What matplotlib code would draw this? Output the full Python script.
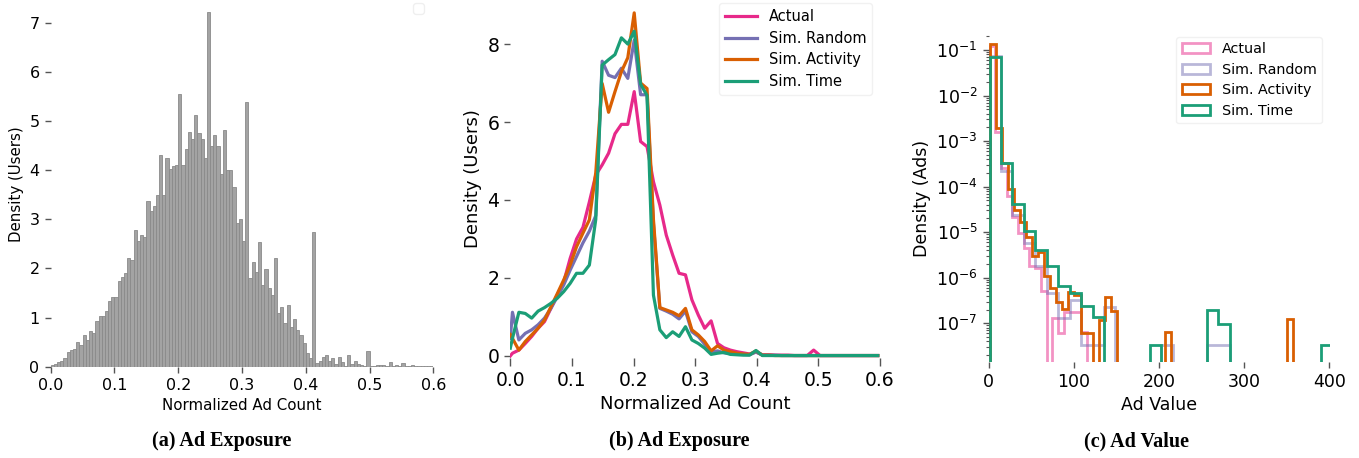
import numpy as np
import matplotlib
matplotlib.use('Agg')
import matplotlib.pyplot as plt
from matplotlib.patches import Patch

# ---------------- data ----------------
# (a) histogram of normalized ad count, 120 bins of width 0.005 on [0, 0.6]
hist_a = [0.03, 0.06, 0.1, 0.12, 0.18, 0.3, 0.34, 0.37, 0.5, 0.44,
          0.64, 0.54, 0.72, 0.68, 0.93, 1.03, 1.03, 1.13, 1.34, 1.42,
          1.42, 1.74, 1.83, 1.9, 2.21, 2.17, 2.78, 2.56, 2.68, 2.63,
          3.37, 3.17, 3.27, 3.5, 4.31, 3.5, 4.25, 4.03, 4.08, 4.1,
          5.55, 4.11, 4.43, 4.78, 4.64, 5.13, 4.76, 4.64, 4.25, 7.22,
          4.49, 4.72, 4.49, 3.92, 4.82, 4.0, 4.0, 3.65, 2.93, 3.0,
          2.56, 5.38, 1.81, 2.13, 1.93, 2.53, 1.66, 1.99, 1.6, 1.46,
          2.21, 1.09, 1.22, 0.89, 1.26, 0.81, 0.97, 0.75, 0.64, 0.48,
          0.28, 0.18, 2.74, 0.07, 0.12, 0.2, 0.24, 0.12, 0.18, 0.05,
          0.2, 0.1, 0.005, 0.24, 0.05, 0.12, 0.05, 0.03, 0.01, 0.32,
          0.01, 0.01, 0.03, 0.03, 0.03, 0.01, 0.1, 0.01, 0.03, 0.01,
          0.07, 0.01, 0.01, 0.03, 0.01, 0.01, 0.01, 0.01, 0.01, 0.01]
bin_width_a = 0.005

# (b) frequency polygons
x_b = np.r_[0.0, 0.0035 + 0.0104 * np.arange(58)]
actual_b = [0.0, 0.07, 0.15, 0.32, 0.5, 0.71, 0.88, 1.22, 1.56, 1.9,
            2.5, 3.0, 3.3, 3.95, 4.64, 4.9, 5.2, 5.7, 5.94, 5.94,
            6.78, 5.5, 5.37, 4.47, 3.87, 3.1, 2.59, 2.12, 2.08, 1.44,
            1.05, 0.71, 0.9, 0.32, 0.21, 0.15, 0.11, 0.08, 0.05, 0.1,
            0.03, 0.03, 0.02, 0.02, 0.02, 0.01, 0.01, 0.01, 0.15, 0.01,
            0.01, 0.01, 0.01, 0.01, 0.01, 0.01, 0.01, 0.01, 0.01]
random_b = [0.45, 1.12, 0.41, 0.58, 0.67, 0.8, 0.97, 1.22, 1.52, 1.82,
            2.2, 2.55, 2.9, 3.2, 3.6, 7.56, 7.2, 7.14, 7.38, 7.12,
            8.1, 6.7, 6.7, 3.4, 1.22, 1.15, 1.07, 0.95, 1.15, 0.62,
            0.5, 0.3, 0.1, 0.13, 0.08, 0.06, 0.05, 0.04, 0.03, 0.1,
            0.02, 0.02, 0.02, 0.01, 0.01, 0.01, 0.01, 0.01, 0.01, 0.01,
            0.01, 0.01, 0.01, 0.01, 0.01, 0.01, 0.01, 0.01, 0.01]
activity_b = [0.55, 0.45, 0.15, 0.37, 0.54, 0.71, 0.92, 1.26, 1.6, 1.95,
              2.33, 2.8, 3.15, 3.49, 4.7, 6.99, 6.25, 6.78, 7.29, 7.65,
              8.8, 7.0, 6.86, 3.5, 1.24, 1.18, 1.12, 1.03, 1.22, 0.67,
              0.54, 0.37, 0.13, 0.26, 0.15, 0.11, 0.07, 0.05, 0.04, 0.13,
              0.02, 0.02, 0.01, 0.01, 0.01, 0.01, 0.01, 0.01, 0.01, 0.01,
              0.01, 0.01, 0.01, 0.01, 0.01, 0.01, 0.01, 0.01, 0.01]
time_b = [0.2, 0.45, 1.12, 1.09, 0.97, 1.15, 1.24, 1.35, 1.48, 1.65,
          1.86, 2.12, 2.12, 2.33, 3.5, 7.46, 7.6, 7.73, 8.16, 8.0,
          8.33, 6.97, 6.68, 1.56, 0.67, 0.47, 0.62, 0.5, 0.75, 0.41,
          0.32, 0.2, 0.04, 0.07, 0.09, 0.04, 0.03, 0.02, 0.02, 0.14,
          0.01, 0.01, 0.01, 0.01, 0.01, 0.01, 0.01, 0.01, 0.01, 0.01,
          0.01, 0.01, 0.01, 0.01, 0.01, 0.01, 0.01, 0.01, 0.01]

# (c) step histograms of ad value (log density)
actual_c_range, actual_c = (1, 114.9), [0.12, 1.6e-3, 2.6e-4, 6.3e-5, 2.2e-5, 9.5e-6, 4.5e-6, 1.8e-6,
                                         1.6e-6, 5e-7, 0, 1.3e-7, 6e-8, 1.8e-7, 1.8e-7, 1.8e-7, 6.5e-8]
random_c_range, random_c = (1, 404), [0.075, 2.2e-4, 2.4e-5, 5.9e-6, 1.8e-6, 4.6e-7, 1.3e-7, 3.3e-7,
                                       3.3e-8, 3.3e-8, 2.3e-7, 0, 0, 0, 0, 3.3e-8, 0, 0, 0, 3.3e-8,
                                       3.3e-8, 0, 0, 0, 0, 0, 0, 0, 0, 0]
activity_c_range, activity_c = (1, 357), ([0.135, 1.9e-3, 3.3e-4, 8.9e-5, 3.1e-5, 1.66e-5, 7.8e-6, 3.0e-6,
                                           3.6e-6, 1.1e-6, 5.9e-7, 3.0e-7, 2.06e-7, 4.9e-7, 4.2e-7, 6.2e-8,
                                           6.2e-8, 0, 1.2e-7, 3.8e-7, 1.9e-7] + [0] * 8 + [6.3e-8]
                                          + [0] * 19 + [1.26e-7])
time_c_range, time_c = (1, 404), [0.071, 3.3e-4, 4.1e-5, 1.04e-5, 4.1e-6, 1.83e-6, 6.7e-7, 4.6e-7,
                                   2.35e-7, 1.37e-7, 0, 0, 0, 0, 3.3e-8, 0, 0, 0, 0, 2.0e-7,
                                   9.7e-8, 0, 0, 0, 0, 0, 0, 0, 0, 3.3e-8]

labels = ['Actual', 'Sim. Random', 'Sim. Activity', 'Sim. Time']
colors = ['#e7298a', '#7570b3', '#d95f02', '#1b9e77']

# ---------------- figure ----------------
W, H = 1359, 458
fig = plt.figure(figsize=(W / 100, H / 100), dpi=100)


def rect(l, t, r, b):
    return [l / W, 1 - b / H, (r - l) / W, (b - t) / H]


def clean(ax, size, lab):
    for s in ax.spines.values():
        s.set_visible(False)
    ax.tick_params(axis='both', which='major', length=4.5, width=1, color='#555555',
                   labelsize=size, labelcolor='black')
    ax.tick_params(axis='both', which='minor', length=2.5, width=0.8, color='#555555')
    ax.xaxis.label.set_size(lab)
    ax.yaxis.label.set_size(lab)


# ---- (a)
ax_a = fig.add_axes(rect(50.7, 0.6, 433.3, 366.7))
edges_a = np.arange(len(hist_a)) * bin_width_a
ax_a.bar(edges_a, hist_a, width=bin_width_a, align='edge', color='#a3a3a3',
         edgecolor='#8a8a8a', linewidth=0.6)
ax_a.set_xlim(0, 0.6)
ax_a.set_ylim(0, 7.45)
ax_a.set_xticks(np.arange(0, 0.61, 0.1))
ax_a.set_yticks(range(0, 8))
ax_a.set_xlabel('Normalized Ad Count')
ax_a.set_ylabel('Density (Users)')
clean(ax_a, 11.5, 10.8)
leg_a = ax_a.legend(handles=[], loc='upper right', bbox_to_anchor=(424 / W, 1 - 3 / H),
                    bbox_transform=fig.transFigure, borderaxespad=0, frameon=True)
leg_a.get_frame().set_edgecolor('#ececec')

# ---- (b)
ax_b = fig.add_axes(rect(510.3, 0, 880, 357.5))
for ys, lab, c in zip([actual_b, random_b, activity_b, time_b], labels, colors):
    ax_b.plot(x_b, ys, color=c, lw=2.3, label=lab)
ax_b.set_xlim(0, 0.6)
ax_b.set_ylim(-0.04, 9.13)
ax_b.set_xticks(np.arange(0, 0.61, 0.1))
ax_b.set_yticks([0, 2, 4, 6, 8])
ax_b.set_xlabel('Normalized Ad Count')
ax_b.set_ylabel('Density (Users)')
clean(ax_b, 13.5, 13)
ax_b.tick_params(axis='x', length=6)
leg_b = ax_b.legend(loc='upper right', bbox_to_anchor=(872 / W, 1 - 3.3 / H),
                    bbox_transform=fig.transFigure, borderaxespad=0, fontsize=10.5,
                    handlelength=2.2, labelspacing=0.45, frameon=True)
leg_b.get_frame().set_edgecolor('#eeeeee')

# ---- (c)
ax_c = fig.add_axes(rect(988.7, 35.3, 1330.2, 361.7))
series_c = [(actual_c_range, actual_c, 0.5), (random_c_range, random_c, 0.5),
            (activity_c_range, activity_c, 1.0), (time_c_range, time_c, 1.0)]
for (rng, vals, al), c in zip(series_c, colors):
    edges = np.linspace(rng[0], rng[1], len(vals) + 1)
    ax_c.stairs(vals, edges, color=c, lw=2.0, alpha=al, baseline=0)
ax_c.set_yscale('log')
ax_c.set_xlim(0, 401)
ax_c.set_ylim(1.43e-8, 0.21)
ax_c.set_xticks([0, 100, 200, 300, 400])
ax_c.set_xlabel('Ad Value')
ax_c.set_ylabel('Density (Ads)')
clean(ax_c, 12.5, 12.5)
handles_c = [Patch(facecolor='none', edgecolor=c, lw=2.0, alpha=a)
             for c, a in zip(colors, [0.5, 0.5, 1.0, 1.0])]
leg_c = ax_c.legend(handles_c, labels, loc='upper right', bbox_to_anchor=(1322.3 / W, 1 - 36.7 / H),
                    bbox_transform=fig.transFigure, borderaxespad=0, fontsize=10.3,
                    labelspacing=0.45, frameon=True)
leg_c.get_frame().set_edgecolor('#eeeeee')

# ---- captions
cap_kw = dict(ha='center', va='center', fontsize=14.5, fontweight='bold', family='Liberation Serif')
fig.text(222 / W, 1 - 441 / H, '(a) Ad Exposure', **cap_kw)
fig.text(679 / W, 1 - 441 / H, '(b) Ad Exposure', **cap_kw)
fig.text(1136 / W, 1 - 441 / H, '(c) Ad Value', **cap_kw)

fig.savefig('out.png', dpi=100)
